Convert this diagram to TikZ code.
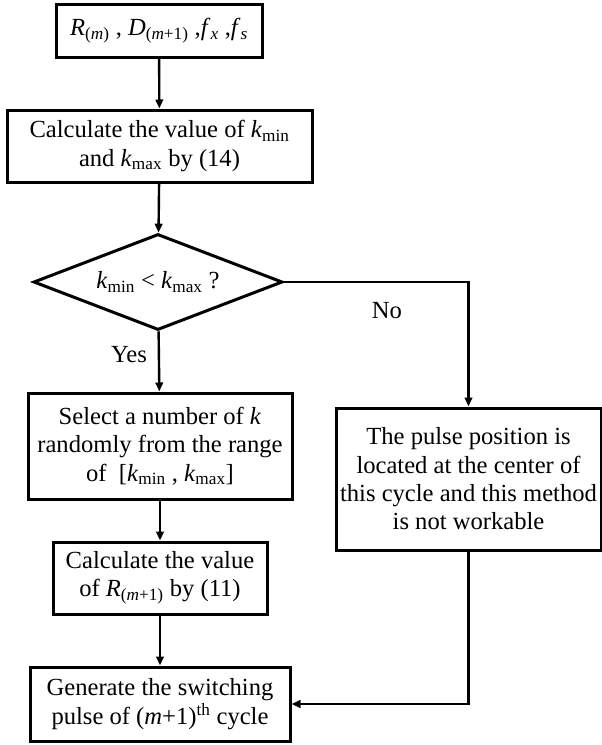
\documentclass[tikz,border=0pt]{standalone}
\usepackage{fontspec}
\setmainfont{Liberation Serif}
\usetikzlibrary{shapes.geometric,arrows.meta}
\newcommand{\sbx}[1]{\textsubscript{#1}}
\begin{document}
\begin{tikzpicture}[x=1pt,y=-1pt,
  box/.style={draw, line width=3pt, align=center, inner sep=0pt,
    font=\fontsize{24.6}{28.3}\selectfont},
  dia/.style={draw, shape=diamond, line width=3pt, inner sep=0pt, aspect=2.5,
    font=\fontsize{24.6}{28.3}\selectfont},
  lbl/.style={inner sep=0pt, font=\fontsize{24.6}{28.3}\selectfont},
  conn/.style={line width=2.4pt, -{Triangle[length=9pt,width=7.5pt]}}]
\useasboundingbox (0,0) rectangle (602,745);

\node[box, minimum width=206pt, minimum height=53pt] (n1) at (159,30.5)
  {\textit{R}\sbx{(\textit{m})} , \textit{D}\sbx{(\textit{m}+1)} ,\textit{f}\sbx{\textit{x}} ,\textit{f}\sbx{\textit{s}}};
\node[box, minimum width=305pt, minimum height=72pt] (n2) at (159.5,146)
  {Calculate the value of \textit{k}\sbx{min}\\and \textit{k}\sbx{max} by (14)};
\node[dia, minimum width=249pt, minimum height=96pt] (d) at (158,282)
  {\textit{k}\sbx{min} < \textit{k}\sbx{max} ?};
\node[box, minimum width=264pt, minimum height=106pt] (n3) at (160,446)
  {Select a number of \textit{k}\\randomly from the range\\of~~[\textit{k}\sbx{min} , \textit{k}\sbx{max}]};
\node[box, minimum width=214pt, minimum height=72pt] (n4) at (160,578)
  {Calculate the value\\of \textit{R}\sbx{(\textit{m}+1)} by (11)};
\node[box, minimum width=260pt, minimum height=74pt] (n5) at (160,704)
  {Generate the switching\\pulse of (\textit{m}+1)\textsuperscript{th} cycle};
\node[box, minimum width=265pt, minimum height=142pt] (r) at (468.5,479)
  {The pulse position is\\located at the center of\\this cycle and this method\\is not workable};

\node[lbl] (yes) at (129,355) {Yes};
\node[lbl] (no) at (387,311) {No};

\draw[conn] (n1) -- (n2);
\draw[conn] (n2) -- (d);
\draw[conn] (d) -- (n3);
\draw[conn] (n3) -- (n4);
\draw[conn] (n4) -- (n5);
\draw[conn] (d.east) -| (r.north);
\draw[conn] (r.south) |- (n5.east);
\end{tikzpicture}
\end{document}
